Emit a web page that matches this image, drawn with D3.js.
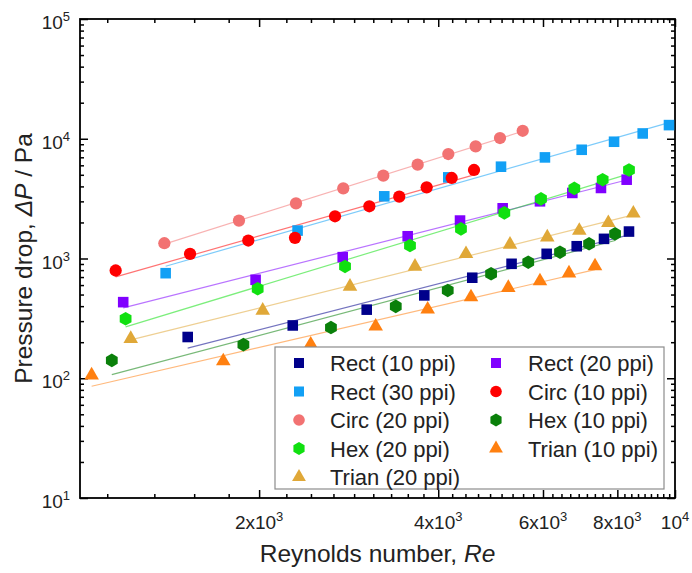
<!DOCTYPE html>
<html>
<head>
<meta charset="utf-8">
<script src="https://d3js.org/d3.v7.min.js"></script>
<style>
  body { margin: 0; background: #fff; }
  svg { display: block; font-family: "Liberation Sans", Arial, sans-serif; }
</style>
</head>
<body>
<div id="chart"></div>
<script>
// Reynolds number / pressure drop
const rect10Re = [1517, 2278, 3033, 3790, 4563, 5313, 6086, 6836, 7598, 8369];
const rect10dP = [221, 276, 374, 492, 691, 903, 1094, 1266, 1459, 1679];
const rect20Re = [1182, 1973, 2764, 3554, 4352, 5133, 5930, 6721, 7509, 8294];
const rect20dP = [432, 664, 1026, 1534, 2074, 2625, 3003, 3528, 3882, 4552];
const rect30Re = [1393, 2321, 3246, 4159, 5100, 6045, 6969, 7899, 8825, 9770];
const rect30dP = [754, 1711, 3305, 4760, 5843, 6986, 8091, 9441, 11070, 13000];
const circ10Re = [1148, 1531, 1918, 2298, 2683, 3064, 3440, 3825, 4214, 4594];
const circ10dP = [794, 1094, 1413, 1488, 2252, 2729, 3285, 3929, 4704, 5484];
const circ20Re = [1386, 1850, 2307, 2770, 3234, 3694, 4159, 4624, 5080, 5547];
const circ20dP = [1341, 2074, 2890, 3853, 4916, 6071, 7456, 8630, 10140, 11660];
const hex10Re = [1131, 1882, 2641, 3394, 4150, 4908, 5667, 6408, 7171, 7930];
const hex10dP = [141, 191, 265, 398, 541, 746, 931, 1129, 1327, 1606];
const hex20Re = [1193, 1989, 2789, 3586, 4368, 5166, 5954, 6773, 7558, 8369];
const hex20dP = [314, 559, 858, 1283, 1768, 2404, 3145, 3853, 4552, 5484];
const trian10Re = [1046, 1741, 2442, 3140, 3840, 4541, 5246, 5930, 6635, 7338];
const trian10dP = [106, 139, 192, 271, 376, 476, 570, 647, 754, 863];
const trian20Re = [1217, 2028, 2843, 3656, 4454, 5281, 6100, 6905, 7726, 8511];
const trian20dP = [214, 368, 584, 858, 1094, 1309, 1506, 1711, 1985, 2385];

const xMajorTicks = [2000, 4000, 6000, 8000, 10000];
const xTickLabels = [["2x10", "3"], ["4x10", "3"], ["6x10", "3"], ["8x10", "3"], ["10", "4"]];
const yMajorTicks = [10, 100, 1000, 10000, 100000];
const yTickLabels = [["10", "1"], ["10", "2"], ["10", "3"], ["10", "4"], ["10", "5"]];

// series in drawing order
const series = [
  { name: "Rect (10 ppi)", re: rect10Re, dp: rect10dP, shape: "square", color: "#00008b" },
  { name: "Rect (20 ppi)", re: rect20Re, dp: rect20dP, shape: "square", color: "#8000ff" },
  { name: "Rect (30 ppi)", re: rect30Re, dp: rect30dP, shape: "square", color: "#12a0f5" },
  { name: "Circ (10 ppi)", re: circ10Re, dp: circ10dP, shape: "circle", color: "#ff0000" },
  { name: "Circ (20 ppi)", re: circ20Re, dp: circ20dP, shape: "circle", color: "#f27272" },
  { name: "Hex (10 ppi)", re: hex10Re, dp: hex10dP, shape: "hex", color: "#0a800a" },
  { name: "Hex (20 ppi)", re: hex20Re, dp: hex20dP, shape: "hex", color: "#10e010" },
  { name: "Trian (10 ppi)", re: trian10Re, dp: trian10dP, shape: "triangle", color: "#ff8010" },
  { name: "Trian (20 ppi)", re: trian20Re, dp: trian20dP, shape: "triangle", color: "#e0a838" }
];

const width = 692, height = 573;
const plotL = 80, plotR = 675, plotT = 19, plotB = 498;

const svg = d3.select("#chart").append("svg")
  .attr("width", width)
  .attr("height", height);

const x = d3.scaleLog().domain([1000, 10000]).range([plotL, plotR]);
const y = d3.scaleLog().domain([10, 100000]).range([plotB, plotT]);

// hexagon symbol (pointy top)
const symbolHex = {
  draw(ctx, size) {
    const r = Math.sqrt(size / (1.5 * Math.sqrt(3)));
    for (let i = 0; i < 6; i++) {
      const a = Math.PI / 3 * i - Math.PI / 2;
      if (i === 0) ctx.moveTo(r * Math.cos(a), r * Math.sin(a));
      else ctx.lineTo(r * Math.cos(a), r * Math.sin(a));
    }
    ctx.closePath();
  }
};
const shapes = {
  square: [d3.symbolSquare, 112],
  circle: [d3.symbolCircle, 118],
  hex: [symbolHex, 120],
  triangle: [d3.symbolTriangle, 92]
};

// minor ticks
const xMinor = d3.range(5, 45).filter(k => k % 9 !== 0).map(k => k * 2000 / 9);
const yMinor = [];
[10, 100, 1000, 10000].forEach(e => d3.range(2, 10).forEach(d => yMinor.push(d * e)));

function drawAxis(axisFn, scale, ticks, size, tr) {
  svg.append("g")
    .attr("transform", tr)
    .call(axisFn(scale).tickValues(ticks).tickSize(size).tickSizeOuter(0).tickFormat(""))
    .call(g => g.select(".domain").remove())
    .call(g => g.selectAll("line").attr("stroke", "#000").attr("stroke-width", 1.5));
}
drawAxis(d3.axisBottom, x, xMajorTicks, -8, `translate(0,${plotB})`);
drawAxis(d3.axisBottom, x, xMinor, -4, `translate(0,${plotB})`);
drawAxis(d3.axisTop, x, xMajorTicks, -8, `translate(0,${plotT})`);
drawAxis(d3.axisTop, x, xMinor, -4, `translate(0,${plotT})`);
drawAxis(d3.axisLeft, y, yMajorTicks, -8, `translate(${plotL},0)`);
drawAxis(d3.axisLeft, y, yMinor, -4, `translate(${plotL},0)`);
drawAxis(d3.axisRight, y, yMajorTicks, -8, `translate(${plotR},0)`);
drawAxis(d3.axisRight, y, yMinor, -4, `translate(${plotR},0)`);

svg.append("rect")
  .attr("x", plotL).attr("y", plotT)
  .attr("width", plotR - plotL).attr("height", plotB - plotT)
  .attr("fill", "none").attr("stroke", "#000").attr("stroke-width", 1.8);

// tick labels
svg.selectAll(".xlab").data(xMajorTicks).enter().append("text")
  .attr("class", "xlab")
  .attr("x", d => x(d)).attr("y", 529)
  .attr("text-anchor", "middle").attr("font-size", 19).attr("fill", "#222")
  .each(function (d, i) {
    const t = d3.select(this);
    t.append("tspan").text(xTickLabels[i][0]);
    t.append("tspan").attr("dy", -8).attr("font-size", 13).text(xTickLabels[i][1]);
  });

svg.selectAll(".ylab").data(yMajorTicks).enter().append("text")
  .attr("class", "ylab")
  .attr("x", 70).attr("y", d => y(d) + 10)
  .attr("text-anchor", "end").attr("font-size", 19).attr("fill", "#222")
  .each(function (d, i) {
    const t = d3.select(this);
    t.append("tspan").text(yTickLabels[i][0]);
    t.append("tspan").attr("dy", -8).attr("font-size", 13).text(yTickLabels[i][1]);
  });

// axis titles
const xt = svg.append("text")
  .attr("x", (plotL + plotR) / 2).attr("y", 562)
  .attr("text-anchor", "middle").attr("font-size", 24.5).attr("fill", "#222");
xt.append("tspan").text("Reynolds number, ");
xt.append("tspan").attr("font-style", "italic").text("Re");

const yt = svg.append("text")
  .attr("transform", `translate(32,${(plotT + plotB) / 2}) rotate(-90)`)
  .attr("text-anchor", "middle").attr("font-size", 24.5).attr("fill", "#222");
yt.append("tspan").text("Pressure drop, ");
yt.append("tspan").attr("font-style", "italic").text("\u0394P");
yt.append("tspan").text(" / Pa");

// power-law fit lines (least squares in log space)
function powerFit(re, dp) {
  const lx = re.map(Math.log10), ly = dp.map(Math.log10);
  const mx = d3.mean(lx), my = d3.mean(ly);
  const b = d3.sum(lx, (v, i) => (v - mx) * (ly[i] - my)) / d3.sum(lx, v => (v - mx) ** 2);
  const a = my - b * mx;
  const x0 = re[0], x1 = re[re.length - 1];
  return [[x0, 10 ** (a + b * Math.log10(x0))], [x1, 10 ** (a + b * Math.log10(x1))]];
}
const line = d3.line().x(d => x(d[0])).y(d => y(d[1]));

svg.append("g").selectAll("path").data(series).enter().append("path")
  .attr("d", s => line(powerFit(s.re, s.dp)))
  .attr("fill", "none")
  .attr("stroke", s => s.color)
  .attr("stroke-opacity", 0.55)
  .attr("stroke-width", 1.2);

// markers
series.forEach(s => {
  const sym = d3.symbol().type(shapes[s.shape][0]).size(shapes[s.shape][1]);
  svg.append("g").selectAll("path").data(s.re).enter().append("path")
    .attr("transform", (d, i) => `translate(${x(d)},${y(s.dp[i])})`)
    .attr("d", sym)
    .attr("fill", s.color);
});

// legend
const lg = svg.append("g");
lg.append("rect")
  .attr("x", 275).attr("y", 347).attr("width", 389).attr("height", 142)
  .attr("fill", "#fff").attr("stroke", "#8c8c8c").attr("stroke-width", 1.2);

series.forEach((s, i) => {
  const col = i % 2, row = Math.floor(i / 2);
  const cy = 363 + row * 28.5;
  const sx = col === 0 ? 299 : 496;
  const tx = col === 0 ? 330 : 528;
  const sym = d3.symbol().type(shapes[s.shape][0]).size(shapes[s.shape][1] * 0.9);
  lg.append("path")
    .attr("transform", `translate(${sx},${cy})`)
    .attr("d", sym)
    .attr("fill", s.color);
  lg.append("text")
    .attr("x", tx).attr("y", cy + 8)
    .attr("font-size", 22).attr("fill", "#222")
    .text(s.name);
});
</script>
</body>
</html>
